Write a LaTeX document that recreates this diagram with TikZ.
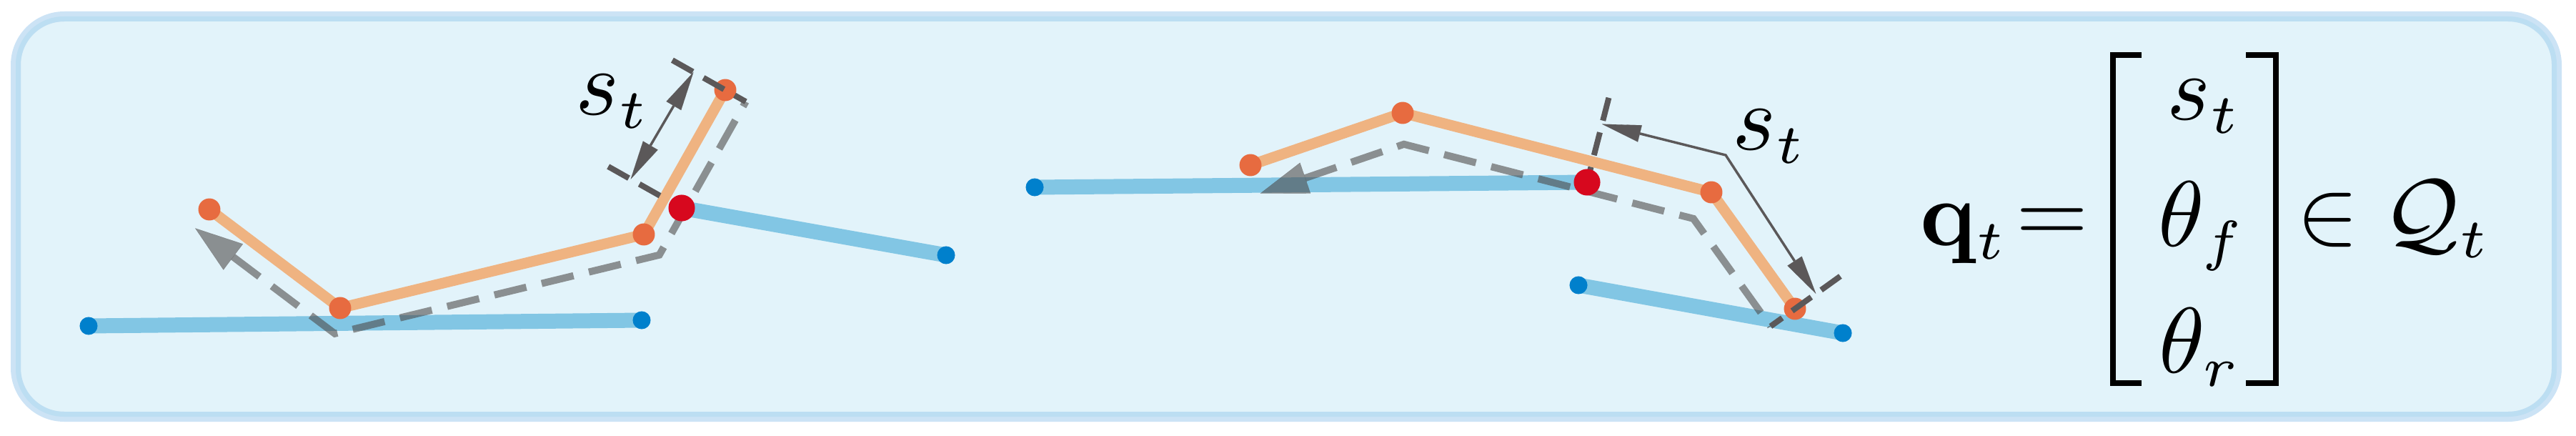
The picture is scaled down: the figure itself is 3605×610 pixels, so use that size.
\documentclass[tikz,border=0pt]{standalone}
\usepackage{amsmath}
\usetikzlibrary{arrows.meta}
\DeclareMathSizes{10}{10}{6}{5}

\definecolor{boxfill}{RGB}{226,243,250}
\definecolor{boxout}{RGB}{204,227,245}
\definecolor{boxin}{RGB}{188,222,242}
\definecolor{barblue}{RGB}{130,198,228}
\definecolor{endblue}{RGB}{0,128,204}
\definecolor{linkorange}{RGB}{239,179,129}
\definecolor{jointorange}{RGB}{231,107,64}
\definecolor{hitchred}{RGB}{215,8,30}
\definecolor{tracegray}{RGB}{76,72,70}
\definecolor{dimgray}{RGB}{91,88,89}

\tikzset{every picture/.style={line width=0.75pt}}
\tikzset{
  bar/.style={draw=barblue, line width=15.75pt},
  barend/.style={fill=endblue},
  link/.style={draw=linkorange, line width=11.25pt, line join=round},
  joint/.style={fill=jointorange},
  hitch/.style={fill=hitchred},
  trace/.style={draw=tracegray, opacity=0.58, line width=7.5pt, line join=miter,
    dash pattern=on 34.5pt off 16.5pt, {Triangle[length=50pt,width=34pt,line width=0.1pt]}-},
  extline/.style={draw=dimgray, line width=6pt, dash pattern=on 24.75pt off 12.75pt},
  dimline/.style={draw=dimgray, line width=2.6pt,
    {Triangle[length=41pt,width=18pt,line width=0.1pt]}-{Triangle[length=41pt,width=18pt,line width=0.1pt]}},
  eqfont/.style={font=\fontsize{10}{12}\selectfont, scale=9.75, inner sep=0pt},
  brack/.style={draw=black, line width=6.2pt, line join=miter}
}

\begin{document}
\begin{tikzpicture}[x=0.75pt,y=0.75pt,yscale=-1,xscale=1]
\useasboundingbox (0,0) rectangle (3605,610);

%Shape: Rounded Rect
\draw [draw=boxout, fill=boxfill, line width=10.5pt, rounded corners=51pt] (22,23) rectangle (3578,583);
\draw [draw=boxin, line width=5.25pt, rounded corners=48pt] (25.5,26.5) rectangle (3574.5,579.5);

% left configuration
\coordinate (L1a) at (124,456);
\coordinate (L1b) at (898,448);
\coordinate (R1) at (954,291);
\coordinate (L2b) at (1324,357);
\coordinate (A1) at (293,293);
\coordinate (A2) at (476,431);
\coordinate (A3) at (901,328);
\coordinate (A4) at (1015,126);
\coordinate (T1) at (273.1,319.3);
\coordinate (T2) at (468.6,466.8);
\coordinate (T3) at (922.7,356.7);
\coordinate (T4) at (1043.7,142.2);
\coordinate (X1) at (851.2,233);
\coordinate (X2) at (940.9,84.2);
\coordinate (D1) at (882.6,250.7);
\coordinate (D2) at (970.5,100.9);

% right configuration
\coordinate (M1a) at (1448,262);
\coordinate (R2) at (2221,255);
\coordinate (M2a) at (2209,399);
\coordinate (M2b) at (2579,466);
\coordinate (B1) at (1750,231);
\coordinate (B2) at (1963,158);
\coordinate (B3) at (2395,269);
\coordinate (B4) at (2512,432);
\coordinate (U1) at (1763.6,270.7);
\coordinate (U2) at (1964.7,201.8);
\coordinate (U3) at (2369.8,305.9);
\coordinate (U4) at (2477.9,456.5);
\coordinate (Y1) at (2251.4,136.8);
\coordinate (Y2) at (2575.4,386.5);
\coordinate (E1) at (2241.9,173.6);
\coordinate (E2) at (2415,217);
\coordinate (E3) at (2541.3,411);

%Straight Lines
\draw [bar] (L1a) -- (L1b);
\draw [bar] (R1) -- (L2b);
\draw [bar] (M1a) -- (R2);
\draw [bar] (M2a) -- (M2b);
%Shape: Circle
\fill [barend] (L1a) circle (9.4pt);
\fill [barend] (L1b) circle (9.4pt);
\fill [barend] (L2b) circle (9.4pt);
\fill [barend] (M1a) circle (9.4pt);
\fill [barend] (M2a) circle (9.4pt);
\fill [barend] (M2b) circle (9.4pt);

%Straight Lines
\draw [trace] (T1) -- (T2) -- (T3) -- (T4);
\draw [trace] (U1) -- (U2) -- (U3) -- (U4);

%Straight Lines
\draw [link] (A1) -- (A2) -- (A3) -- (A4);
\draw [link] (B1) -- (B2) -- (B3) -- (B4);
%Shape: Circle
\fill [joint] (A1) circle (11.6pt);
\fill [joint] (A2) circle (11.6pt);
\fill [joint] (A3) circle (11.6pt);
\fill [joint] (A4) circle (11.6pt);
\fill [joint] (B1) circle (11.6pt);
\fill [joint] (B2) circle (11.6pt);
\fill [joint] (B3) circle (11.6pt);
\fill [joint] (B4) circle (11.6pt);

%Straight Lines
\draw [extline] (X1) -- (R1);
\draw [extline] (X2) -- (T4);
\draw [extline] (Y1) -- (R2);
\draw [extline] (Y2) -- (U4);

%Shape: Circle
\fill [hitch] (R1) circle (13.9pt);
\fill [hitch] (R2) circle (13.9pt);

%Straight Lines
\draw [dimline] (D1) -- (D2);
\draw [dimline] (E1) -- (E2) -- (E3);

% Text Node
\node (stL) [eqfont] at (858,142) {$s_t$};
% Text Node
\node (stR) [eqfont] at (2477,191) {$s_t$};

% state vector
\node (qvec) [eqfont, anchor=base west] at (2683,343) {$\mathbf{q}_t$};
\node (eqsign) [eqfont, anchor=base] at (2872.5,339) {$=$};
\node (rowS) [eqfont, anchor=base west] at (3028,167) {$s_t$};
\node (rowF) [eqfont, anchor=base west] at (3016,344) {$\theta_f$};
\node (rowR) [eqfont, anchor=base west] at (3017,521) {$\theta_r$};
\node (inset) [eqfont, anchor=base] at (3257.5,340) {$\in$};
\node (setQ) [eqfont, anchor=base west] at (3331,341) {$\mathcal{Q}_t$};
%Shape: Brackets
\draw [brack] (2997,77.2) -- (2957.2,77.2) -- (2957.2,535.9) -- (2997,535.9);
\draw [brack] (3143,77.2) -- (3184.9,77.2) -- (3184.9,535.9) -- (3143,535.9);

\end{tikzpicture}
\end{document}
